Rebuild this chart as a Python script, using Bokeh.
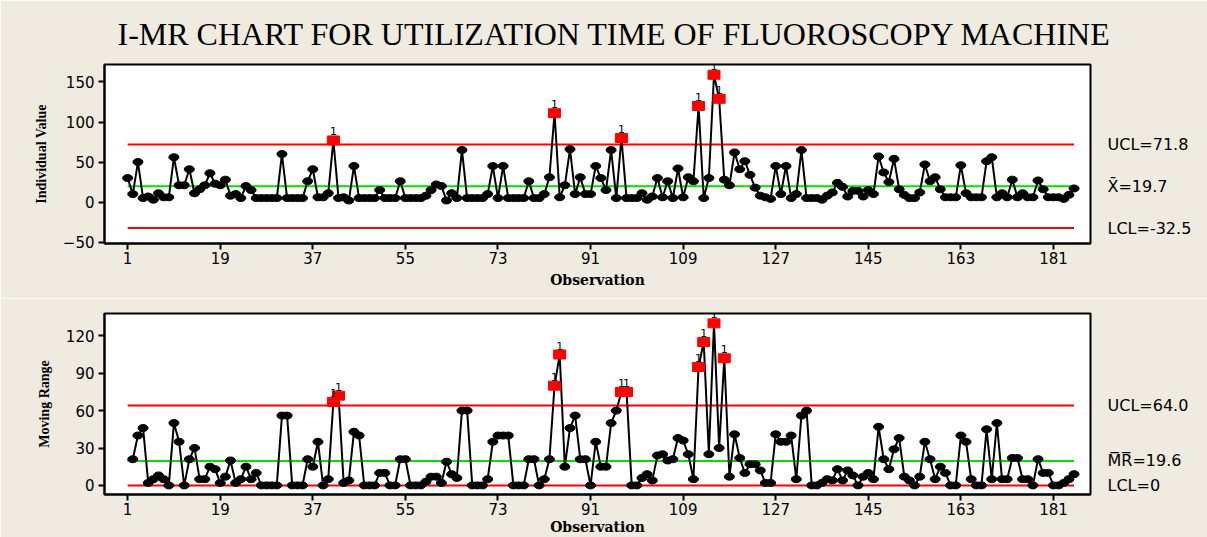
from bokeh.plotting import figure
from bokeh.layouts import column
from bokeh.models import ColumnDataSource, FixedTicker, Range1d, Title, LinearAxis
from bokeh.embed import file_html
from bokeh.resources import INLINE
from bokeh.core.properties import value

TITLE = "I-MR CHART FOR UTILIZATION TIME OF FLUOROSCOPY MACHINE"

individual = [30, 10, 50, 5, 7, 3, 11, 6, 6, 56,
              21, 21, 41, 11, 16, 21, 36, 23, 21, 28,
              8, 10, 5, 20, 15, 5, 5, 5, 5, 5,
              60, 5, 5, 5, 5, 26, 41, 6, 6, 11,
              77, 5, 6, 2, 45, 5, 5, 5, 5, 15,
              5, 5, 5, 26, 5, 5, 5, 5, 8, 15,
              22, 20, 2, 11, 5, 65, 5, 5, 5, 5,
              10, 45, 5, 45, 5, 5, 5, 5, 26, 5,
              5, 10, 31, 111, 6, 21, 66, 10, 31, 10,
              10, 45, 30, 15, 65, 5, 80, 5, 5, 5,
              11, 3, 7, 30, 6, 26, 5, 42, 6, 31,
              26, 120, 5, 30, 159, 129, 28, 21, 62, 41,
              51, 34, 18, 8, 6, 4, 45, 10, 45, 5,
              10, 65, 5, 5, 5, 3, 8, 12, 24, 19,
              7, 14, 14, 7, 15, 10, 57, 37, 25, 54,
              16, 9, 5, 5, 12, 47, 26, 31, 16, 6,
              6, 6, 46, 11, 6, 6, 6, 51, 56, 6,
              11, 6, 28, 6, 11, 6, 6, 27, 16, 6,
              6, 6, 4, 9, 17]

moving_range = [21, 40, 46, 2, 5, 8, 5, 0, 50, 35,
                0, 21, 30, 5, 5, 15, 13, 2, 7, 20,
                2, 5, 15, 5, 10, 0, 0, 0, 0, 56,
                56, 0, 0, 0, 21, 15, 35, 0, 5, 67,
                72, 2, 4, 43, 40, 0, 0, 0, 10, 10,
                0, 0, 21, 21, 0, 0, 0, 3, 7, 7,
                2, 19, 9, 6, 60, 60, 0, 0, 0, 5,
                35, 40, 40, 40, 0, 0, 0, 21, 21, 0,
                5, 21, 80, 105, 15, 46, 56, 21, 21, 0,
                35, 15, 15, 50, 60, 75, 75, 0, 0, 6,
                9, 4, 24, 25, 20, 21, 38, 36, 25, 5,
                95, 115, 25, 130, 30, 102, 7, 41, 22, 10,
                17, 17, 12, 2, 2, 41, 35, 35, 40, 5,
                56, 60, 0, 0, 2, 5, 4, 13, 4, 12,
                8, 0, 7, 10, 5, 47, 21, 13, 29, 38,
                7, 4, 0, 7, 35, 21, 5, 15, 10, 0,
                0, 40, 35, 5, 0, 0, 45, 5, 50, 5,
                5, 22, 22, 5, 5, 0, 21, 10, 10, 0,
                0, 2, 5, 9]

x_center, x_ucl, x_lcl = 19.7, 71.8, -32.5
mr_center, mr_ucl, mr_lcl = 19.6, 64, 0

x_ticks = [1, 19, 37, 55, 73, 91, 109, 127, 145, 163, 181]
iv_ticks = [-50, 0, 50, 100, 150]
mr_ticks = [0, 30, 60, 90, 120]

obs = list(range(1, len(individual) + 1))
mr_obs = obs[1:]
ends = [obs[0], obs[-1]]

BG = "#EFEBE1"
RED = "#FF0000"
GREEN = "#00E000"

W = 1207
LEFT = 104
RIGHT = 117


def make_fig(height, top, bottom, yr, yticks, ylabel, xlabel_standoff):
    p = figure(width=W, height=height, output_backend="svg", toolbar_location=None,
               x_range=Range1d(-3.5, 188.2), y_range=Range1d(*yr),
               min_border_left=LEFT, min_border_right=RIGHT,
               min_border_top=top, min_border_bottom=bottom)
    p.background_fill_color = "white"
    p.border_fill_color = BG
    p.outline_line_color = "black"
    p.outline_line_width = 2
    p.xgrid.visible = False
    p.ygrid.visible = False
    for ax in (p.xaxis, p.yaxis):
        ax.minor_tick_line_color = None
        ax.major_tick_in = 0
        ax.major_tick_out = 6
        ax.major_tick_line_color = "black"
        ax.major_tick_line_width = 2
        ax.axis_line_color = "black"
        ax.axis_line_width = 2
        ax.major_label_text_color = "black"
        ax.major_label_text_font = "DejaVu Sans"
        ax.major_label_text_font_size = "15px"
        ax.axis_label_text_color = "black"
        ax.axis_label_text_font_style = "bold"
    p.xaxis.ticker = FixedTicker(ticks=x_ticks)
    p.yaxis.ticker = FixedTicker(ticks=yticks)
    p.yaxis.major_label_standoff = 4
    p.yaxis.axis_label = ylabel
    p.yaxis.axis_label_text_font = "Liberation Serif"
    p.yaxis.axis_label_text_font_size = "14px"
    p.yaxis.axis_label_standoff = 11
    p.xaxis.axis_label = "Observation"
    p.xaxis.axis_label_text_font = "DejaVu Serif"
    p.xaxis.axis_label_text_font_size = "14px"
    p.xaxis.major_label_standoff = 2
    p.xaxis.axis_label_standoff = xlabel_standoff
    return p


def draw_series(p, xs, ys, center, ucl, lcl):
    p.line(ends, [ucl, ucl], line_color=RED, line_width=2)
    p.line(ends, [lcl, lcl], line_color=RED, line_width=2)
    p.line(ends, [center, center], line_color=GREEN, line_width=2)
    p.line(xs, ys, line_color="black", line_width=2)
    out = [(x, y) for x, y in zip(xs, ys) if y > ucl or y < lcl]
    inn = [(x, y) for x, y in zip(xs, ys) if not (y > ucl or y < lcl)]
    src_in = ColumnDataSource(dict(x=[a for a, _ in inn], y=[b for _, b in inn]))
    src_out = ColumnDataSource(dict(x=[a for a, _ in out], y=[b for _, b in out],
                                    t=["1"] * len(out)))
    p.ellipse(x="x", y="y", width=10, height=7, width_units="screen", height_units="screen",
              fill_color="black", line_color="black", source=src_in)
    p.rect(x="x", y="y", width=12, height=9, width_units="screen", height_units="screen",
           fill_color=RED, line_color=RED, source=src_out)
    p.text(x="x", y="y", text="t", source=src_out, text_font=value("DejaVu Sans"),
           text_font_size="11px", text_color="black", text_align="center",
           text_baseline="bottom", y_offset=-5)


def limit_labels(p, labels):
    ax = LinearAxis(ticker=FixedTicker(ticks=list(labels.keys())),
                    major_label_overrides=labels,
                    axis_line_color=None, major_tick_line_color=None,
                    minor_tick_line_color=None, major_tick_out=0, major_tick_in=0,
                    major_label_standoff=17, major_label_text_font="DejaVu Sans",
                    major_label_text_font_size="16px", major_label_text_color="black")
    p.add_layout(ax, "right")


# Individual value chart
p1 = make_fig(298, 64, 55, (-51.7, 171.8), iv_ticks, "Individual Value", 5)
p1.title = Title(text=TITLE, align="left", text_font_size="32px", text_font="Liberation Serif",
                 text_font_style="normal", text_color="black", standoff=26, offset=13)
draw_series(p1, obs, individual, x_center, x_ucl, x_lcl)
limit_labels(p1, {x_ucl: f"UCL={x_ucl:.1f}",
                  x_center: f"X\u0304={x_center:.1f}",
                  x_lcl: f"LCL={x_lcl:.1f}"})

# Moving range chart
p2 = make_fig(239, 15, 43, (-7.3, 137.9), mr_ticks, "Moving Range", 1)
draw_series(p2, mr_obs, moving_range, mr_center, mr_ucl, mr_lcl)
limit_labels(p2, {mr_ucl: f"UCL={mr_ucl:.1f}",
                  mr_center: f"M\u0305R\u0305={mr_center:.1f}",
                  mr_lcl: "LCL=0"})

layout = column(p1, p2, spacing=0)
open("out.html", "w").write(file_html(layout, INLINE))
